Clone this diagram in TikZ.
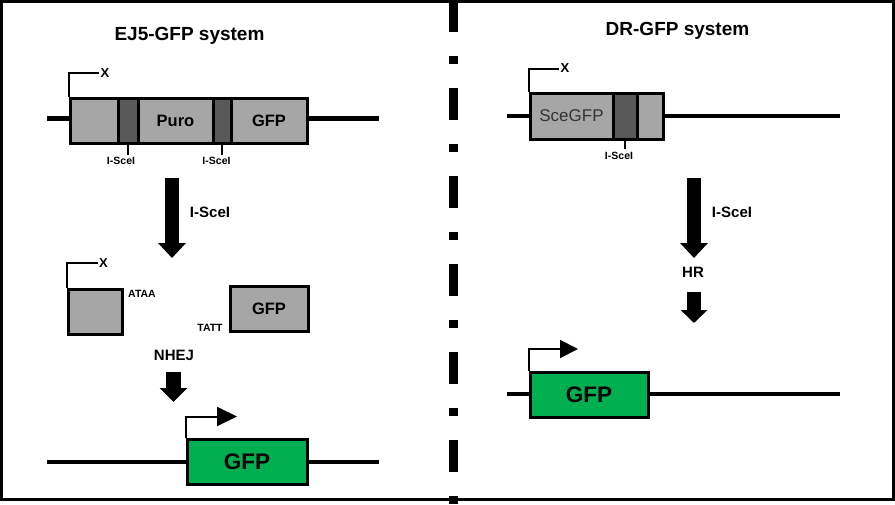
\documentclass[tikz,border=0pt]{standalone}
\usepackage{fontspec}
\setmainfont{Liberation Sans}
\usetikzlibrary{arrows.meta}
\definecolor{boxgray}{HTML}{A6A6A6}
\definecolor{boxdark}{HTML}{595959}
\definecolor{gfpgreen}{HTML}{00B050}
\definecolor{scetext}{HTML}{333333}
\newcommand\fsz[1]{\fontsize{#1}{#1}\selectfont}
\begin{document}
\begin{tikzpicture}[x=1pt,y=-1pt,
  gbox/.style={draw, line width=3pt, fill=boxgray, minimum height=45pt, inner sep=0pt, font=\bfseries\fsz{16.5}},
  dbox/.style={gbox, fill=boxdark},
  grbox/.style={gbox, fill=gfpgreen, font=\bfseries\fsz{22.5}},
  dna/.style={line width=4.5pt},
  prom/.style={line width=2pt},
  ticku/.style={line width=2.5pt},
  small/.style={font=\bfseries\fsz{10.5}, inner sep=0.5pt},
  xlbl/.style={font=\bfseries\fsz{13}, inner sep=1pt},
  steplbl/.style={font=\bfseries\fsz{15}, inner sep=0pt},
  title/.style={font=\bfseries\fsz{19}, inner sep=0pt, anchor=base},
  bigarrow/.style={line width=14pt, -{Triangle[length=15pt,width=27pt]}},
  smallarrow/.style={line width=14.5pt, -{Triangle[length=14pt,width=27pt]}},
]
\useasboundingbox (0,0) rectangle (895,504);
\fill[white] (0,0) rectangle (895,504);
\draw[line width=3pt] (1.5,1.5) rectangle (893,499.5);

% divider
\coordinate (dvt) at (453.5,0);
\coordinate (dvb) at (453.5,504);
\draw[line width=8.5pt, dash pattern=on 32pt off 24pt on 8pt off 24pt] (dvt) -- (dvb);

% titles
\node[title] (t1) at (189.5,40) {EJ5-GFP system};
\node[title] (t2) at (677.5,35) {DR-GFP system};

% ===== EJ5 construct =====
\coordinate (l1a) at (47,118.5);
\coordinate (l1b) at (379,118.5);
\node[gbox, minimum width=48pt] (e1) at (94,120.5) {};
\node[gbox, minimum width=75pt] (e3) at (175.5,120.5) {Puro};
\node[gbox, minimum width=76pt] (e5) at (269,120.5) {GFP};
\node[dbox, minimum width=20pt] (e2) at (128,120.5) {};
\node[dbox, minimum width=18pt] (e4) at (222,120.5) {};
\draw[dna] (l1a) -- (l1a -| e1.west);
\draw[dna] (l1a -| e5.east) -- (l1b);
\node[xlbl] (x1) at (105,73) {X};
\draw[prom] (e1.north west) |- (x1.west);
\coordinate (k1) at (128,155);
\coordinate (k2) at (222,155);
\draw[ticku] (e2.south) -- (k1);
\draw[ticku] (e4.south) -- (k2);
\node[small] (s1) at (121,160.5) {I-SceI};
\node[small] (s2) at (216.5,160.5) {I-SceI};

% arrow 1 left
\coordinate (a1s) at (172,178);
\coordinate (a1e) at (172,258);
\draw[bigarrow] (a1s) -- (a1e);
\node[steplbl] (c1) at (210,212) {I-SceI};

% ===== cut fragments =====
\node[gbox, minimum width=54pt] (f1) at (95,311.5) {};
\node[gbox, minimum width=78pt] (f2) at (269,308.5) {GFP};
\node[xlbl] (x2) at (103.5,263) {X};
\draw[prom] (f1.north west) |- (x2.west);
\node[small] (ov1) at (142,294) {ATAA};
\node[small] (ov2) at (210,328) {TATT};

\node[steplbl] (nh) at (174,355) {NHEJ};
\coordinate (a2s) at (173.5,372);
\coordinate (a2e) at (173.5,402);
\draw[smallarrow] (a2s) -- (a2e);

% ===== repaired left =====
\coordinate (l2a) at (47,462);
\coordinate (l2b) at (379,462);
\node[grbox, minimum width=120pt] (g1) at (247,461.5) {GFP};
\draw[dna] (l2a) -- (l2a -| g1.west);
\draw[dna] (l2a -| g1.east) -- (l2b);
\coordinate (p1) at (237,416.5);
\draw[prom, -{Triangle[length=20pt,width=19pt]}] (g1.north west) |- (p1);

% ===== DR construct =====
\coordinate (l3a) at (507,116);
\coordinate (l3b) at (840,116);
\node[gbox, minimum width=83pt, minimum height=46pt, font=\fsz{17}\color{scetext}] (r1) at (571.5,116) {SceGFP};
\node[gbox, minimum width=26pt, minimum height=46pt] (r3) at (650,116) {};
\node[dbox, minimum width=24pt, minimum height=46pt] (r2) at (625,116) {};
\draw[dna] (l3a) -- (l3a -| r1.west);
\draw[dna] (l3a -| r3.east) -- (l3b);
\node[xlbl] (x3) at (565,68.5) {X};
\draw[prom] (r1.north west) |- (x3.west);
\coordinate (k3) at (625,149);
\draw[ticku] (r2.south) -- (k3);
\node[small] (s3) at (619,156) {I-SceI};

% arrow right 1
\coordinate (b1s) at (694,178);
\coordinate (b1e) at (694,258);
\draw[bigarrow] (b1s) -- (b1e);
\node[steplbl] (c2) at (732,212) {I-SceI};
\node[steplbl] (hr) at (693,272) {HR};
\coordinate (b2s) at (694,292);
\coordinate (b2e) at (694,323);
\draw[line width=14pt, -{Triangle[length=13pt,width=26pt]}] (b2s) -- (b2e);

% ===== repaired right =====
\coordinate (l4a) at (507,394);
\coordinate (l4b) at (840,394);
\node[grbox, minimum width=118pt] (g2) at (589,394.5) {GFP};
\draw[dna] (l4a) -- (l4a -| g2.west);
\draw[dna] (l4a -| g2.east) -- (l4b);
\coordinate (p2) at (578,349);
\draw[prom, -{Triangle[length=18pt,width=18pt]}] (g2.north west) |- (p2);
\end{tikzpicture}
\end{document}
